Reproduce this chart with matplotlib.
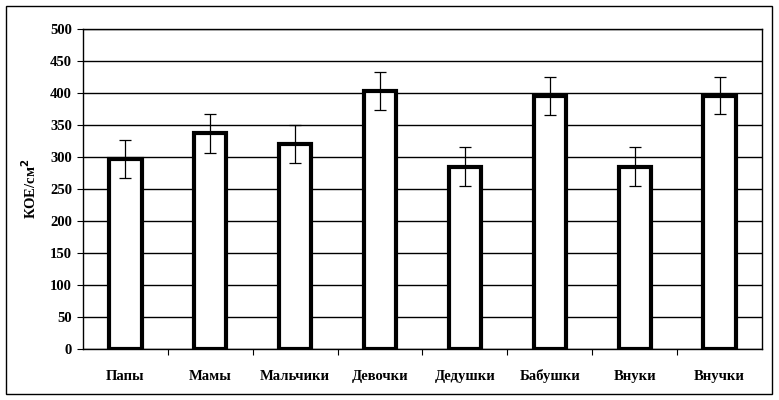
import numpy as np
import matplotlib.pyplot as plt
from matplotlib.patches import Rectangle

# значения
categories = ['Папы', 'Мамы', 'Мальчики', 'Девочки', 'Дедушки', 'Бабушки', 'Внуки', 'Внучки']
values = [297, 337, 320, 403, 285, 395, 285, 396]
errors = [30, 30, 30, 30, 30, 30, 30, 29]
yticks = np.arange(0, 501, 50)

plt.rcParams['font.family'] = ['Liberation Serif', 'DejaVu Serif']
plt.rcParams['font.weight'] = 'bold'

fig = plt.figure(figsize=(7.79, 4.00), dpi=100)
ax = fig.add_axes([83 / 779, 1 - 349 / 400, (762 - 83) / 779, (349 - 29) / 400])

x = np.arange(len(categories))
ax.bar(x, values, width=0.38, color='white', edgecolor='black', linewidth=3, zorder=2)
ax.errorbar(x, values, yerr=errors, fmt='none', ecolor='black', elinewidth=0.9,
            capsize=4, capthick=0.9, zorder=3)

ax.set_xlim(-0.5, len(categories) - 0.5)
ax.set_ylim(0, 500)
ax.set_yticks(yticks)
ax.set_xticks(x)
ax.set_xticklabels(categories, fontsize=10.5, fontweight='bold', va='baseline')
ax.set_xticks(np.arange(0.5, len(categories) - 0.5), minor=True)
ax.tick_params(axis='x', which='major', length=0, pad=22)
ax.tick_params(axis='x', which='minor', length=4, width=0.8, direction='out')
ax.tick_params(axis='y', length=4, width=0.8, pad=4, labelsize=10.5)
for lab in ax.get_yticklabels():
    lab.set_fontweight('bold')

ax.yaxis.grid(True, color='black', linewidth=1)
ax.set_axisbelow(True)
for s in ax.spines.values():
    s.set_linewidth(1)
    s.set_color('black')

ax.set_ylabel('КОЕ/см$^{\\mathbf{2}}$', fontsize=10.5, fontweight='bold', labelpad=8)

# рамка вокруг всей диаграммы
fig.patches.append(Rectangle((5.5 / 779, 1 - 393.5 / 400), 766 / 779, 388 / 400,
                             transform=fig.transFigure, fill=False,
                             edgecolor='black', linewidth=1))

fig.savefig('out.png', dpi=100)
